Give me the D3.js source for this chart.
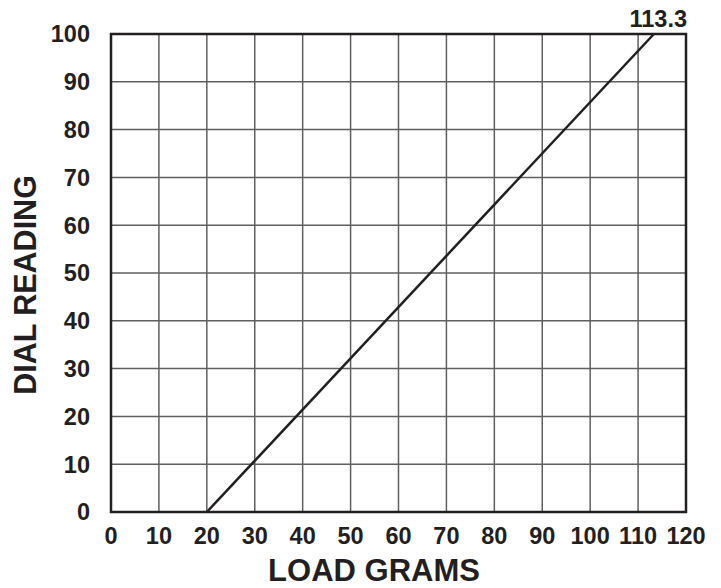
<!DOCTYPE html>
<html>
<head>
<meta charset="utf-8">
<script src="https://cdn.jsdelivr.net/npm/d3@7"></script>
<style>
  body { margin: 0; background: #fff; }
  text { font-family: "Liberation Sans", Arial, sans-serif; font-weight: bold; fill: #231f20; }
</style>
</head>
<body>
<svg width="721" height="588"></svg>
<script>
const X_TICKS = [0, 10, 20, 30, 40, 50, 60, 70, 80, 90, 100, 110, 120];
const Y_TICKS = [0, 10, 20, 30, 40, 50, 60, 70, 80, 90, 100];
const LOAD = [20, 113.3];
const DIAL = [0, 100];
const END_LABEL = "113.3";

const plotLeft = 111, plotRight = 686, plotTop = 34, plotBottom = 512;

const x = d3.scaleLinear().domain([0, 120]).range([plotLeft, plotRight]);
const y = d3.scaleLinear().domain([0, 100]).range([plotBottom, plotTop]);

const svg = d3.select("svg");

// grid
svg.append("g")
  .selectAll("line")
  .data(X_TICKS.slice(1, -1))
  .enter()
  .append("line")
  .attr("x1", d => x(d)).attr("x2", d => x(d))
  .attr("y1", plotTop).attr("y2", plotBottom)
  .attr("stroke", "#5f5f5f")
  .attr("stroke-width", 1.5);

svg.append("g")
  .selectAll("line")
  .data(Y_TICKS.slice(1, -1))
  .enter()
  .append("line")
  .attr("y1", d => y(d)).attr("y2", d => y(d))
  .attr("x1", plotLeft).attr("x2", plotRight)
  .attr("stroke", "#5f5f5f")
  .attr("stroke-width", 1.5);

// frame
svg.append("rect")
  .attr("x", plotLeft).attr("y", plotTop)
  .attr("width", plotRight - plotLeft).attr("height", plotBottom - plotTop)
  .attr("fill", "none")
  .attr("stroke", "#231f20")
  .attr("stroke-width", 2.5);

// tick labels
svg.append("g")
  .selectAll("text")
  .data(X_TICKS)
  .enter()
  .append("text")
  .attr("x", d => x(d))
  .attr("y", plotBottom + 32)
  .attr("text-anchor", "middle")
  .attr("font-size", 23.5)
  .text(d => d);

svg.append("g")
  .selectAll("text")
  .data(Y_TICKS)
  .enter()
  .append("text")
  .attr("x", 90)
  .attr("y", d => y(d))
  .attr("dy", "0.36em")
  .attr("text-anchor", "end")
  .attr("font-size", 23.5)
  .text(d => d);

// the line
const pts = LOAD.map((v, i) => [v, DIAL[i]]);
svg.append("path")
  .datum(pts)
  .attr("d", d3.line().x(d => x(d[0])).y(d => y(d[1])))
  .attr("fill", "none")
  .attr("stroke", "#231f20")
  .attr("stroke-width", 2.5);

svg.append("text")
  .attr("x", plotRight + 1)
  .attr("y", plotTop - 7)
  .attr("text-anchor", "end")
  .attr("font-size", 23.5)
  .text(END_LABEL);

// axis titles
svg.append("text")
  .attr("x", 374)
  .attr("y", 581)
  .attr("text-anchor", "middle")
  .attr("font-size", 31)
  .text("LOAD GRAMS");

svg.append("text")
  .attr("transform", "translate(36,285) rotate(-90)")
  .attr("text-anchor", "middle")
  .attr("font-size", 30.5)
  .text("DIAL READING");
</script>
</body>
</html>
